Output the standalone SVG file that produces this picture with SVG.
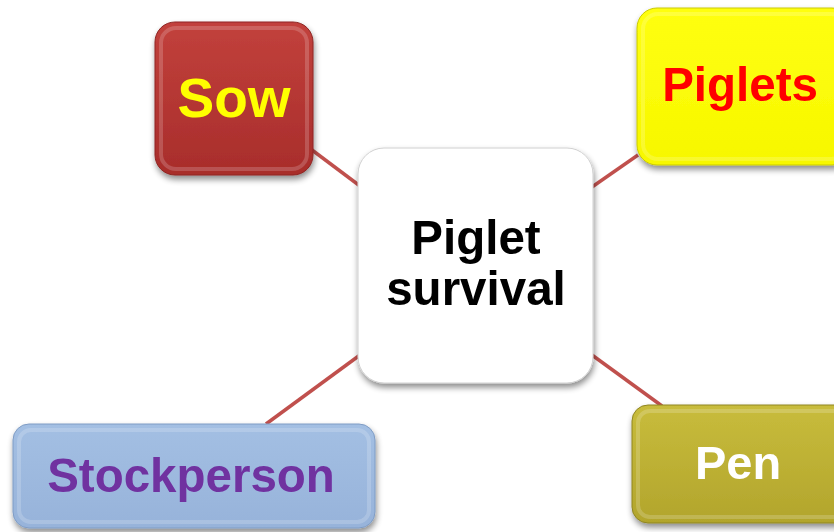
<svg xmlns="http://www.w3.org/2000/svg" width="834" height="532" viewBox="0 0 834 532">
<style>
.lbl{font-family:"Liberation Sans",Arial,sans-serif;font-weight:bold;text-anchor:middle}
.conn{stroke:#C0504D;stroke-width:3.5;fill:none}
.hl{fill:none;stroke:#ffffff;stroke-opacity:0.18;stroke-width:4}
</style>
<defs>
<filter id="sh" x="-10%" y="-10%" width="125%" height="130%">
<feGaussianBlur in="SourceAlpha" stdDeviation="3"/>
<feOffset dx="1" dy="4" result="b"/>
<feComponentTransfer><feFuncA type="linear" slope="0.45"/></feComponentTransfer>
<feMerge><feMergeNode/><feMergeNode in="SourceGraphic"/></feMerge>
</filter>
<linearGradient id="gSow" x1="0" y1="0" x2="0" y2="1"><stop offset="0" stop-color="#C2413C"/><stop offset="1" stop-color="#A82D2B"/></linearGradient>
<linearGradient id="gPig" x1="0" y1="0" x2="0" y2="1"><stop offset="0" stop-color="#FFFF10"/><stop offset="1" stop-color="#F7F700"/></linearGradient>
<linearGradient id="gSt" x1="0" y1="0" x2="0" y2="1"><stop offset="0" stop-color="#A3BFE3"/><stop offset="1" stop-color="#97B3DA"/></linearGradient>
<linearGradient id="gPen" x1="0" y1="0" x2="0" y2="1"><stop offset="0" stop-color="#C8BC3C"/><stop offset="1" stop-color="#B2A52C"/></linearGradient>
</defs>
<g id="connectors">
<line class="conn" x1="312" y1="150" x2="360" y2="186"/>
<line class="conn" x1="638" y1="155" x2="592" y2="187"/>
<line class="conn" x1="266" y1="424" x2="360" y2="355"/>
<line class="conn" x1="592" y1="355" x2="662" y2="406"/>
</g>
<g id="sow" filter="url(#sh)">
<rect x="155" y="22" width="158" height="153" rx="20" fill="url(#gSow)" stroke="#8E2624" stroke-width="1"/>
<rect x="161" y="28" width="146" height="141" rx="15" class="hl"/>
<text class="lbl" x="234" y="117" font-size="55" fill="#FFFF00">Sow</text>
</g>
<g id="piglets" filter="url(#sh)">
<rect x="637" y="8" width="215" height="157" rx="20" fill="url(#gPig)" stroke="#C9C900" stroke-width="1"/>
<rect x="643" y="14" width="203" height="145" rx="15" class="hl"/>
<text class="lbl" x="740" y="101" font-size="47.5" fill="#FF0000">Piglets</text>
</g>
<g id="center" filter="url(#sh)">
<rect x="358" y="148" width="235" height="235" rx="26" fill="#FFFFFF" stroke="#D0D0D0" stroke-width="1"/>
<text class="lbl" x="476" y="254" font-size="47.5" fill="#000000">Piglet</text>
<text class="lbl" x="476" y="305" font-size="47.5" fill="#000000">survival</text>
</g>
<g id="stockperson" filter="url(#sh)">
<rect x="13" y="424" width="362" height="104" rx="16" fill="url(#gSt)" stroke="#7F9CC4" stroke-width="1"/>
<rect x="19" y="430" width="350" height="92" rx="12" class="hl"/>
<text class="lbl" x="191" y="492" font-size="47.5" fill="#7030A0">Stockperson</text>
</g>
<g id="pen" filter="url(#sh)">
<rect x="632" y="405" width="220" height="118" rx="16" fill="url(#gPen)" stroke="#8F8520" stroke-width="1"/>
<rect x="638" y="411" width="208" height="106" rx="12" class="hl"/>
<text class="lbl" x="738" y="479" font-size="47" fill="#FFFFFF">Pen</text>
</g>
</svg>
